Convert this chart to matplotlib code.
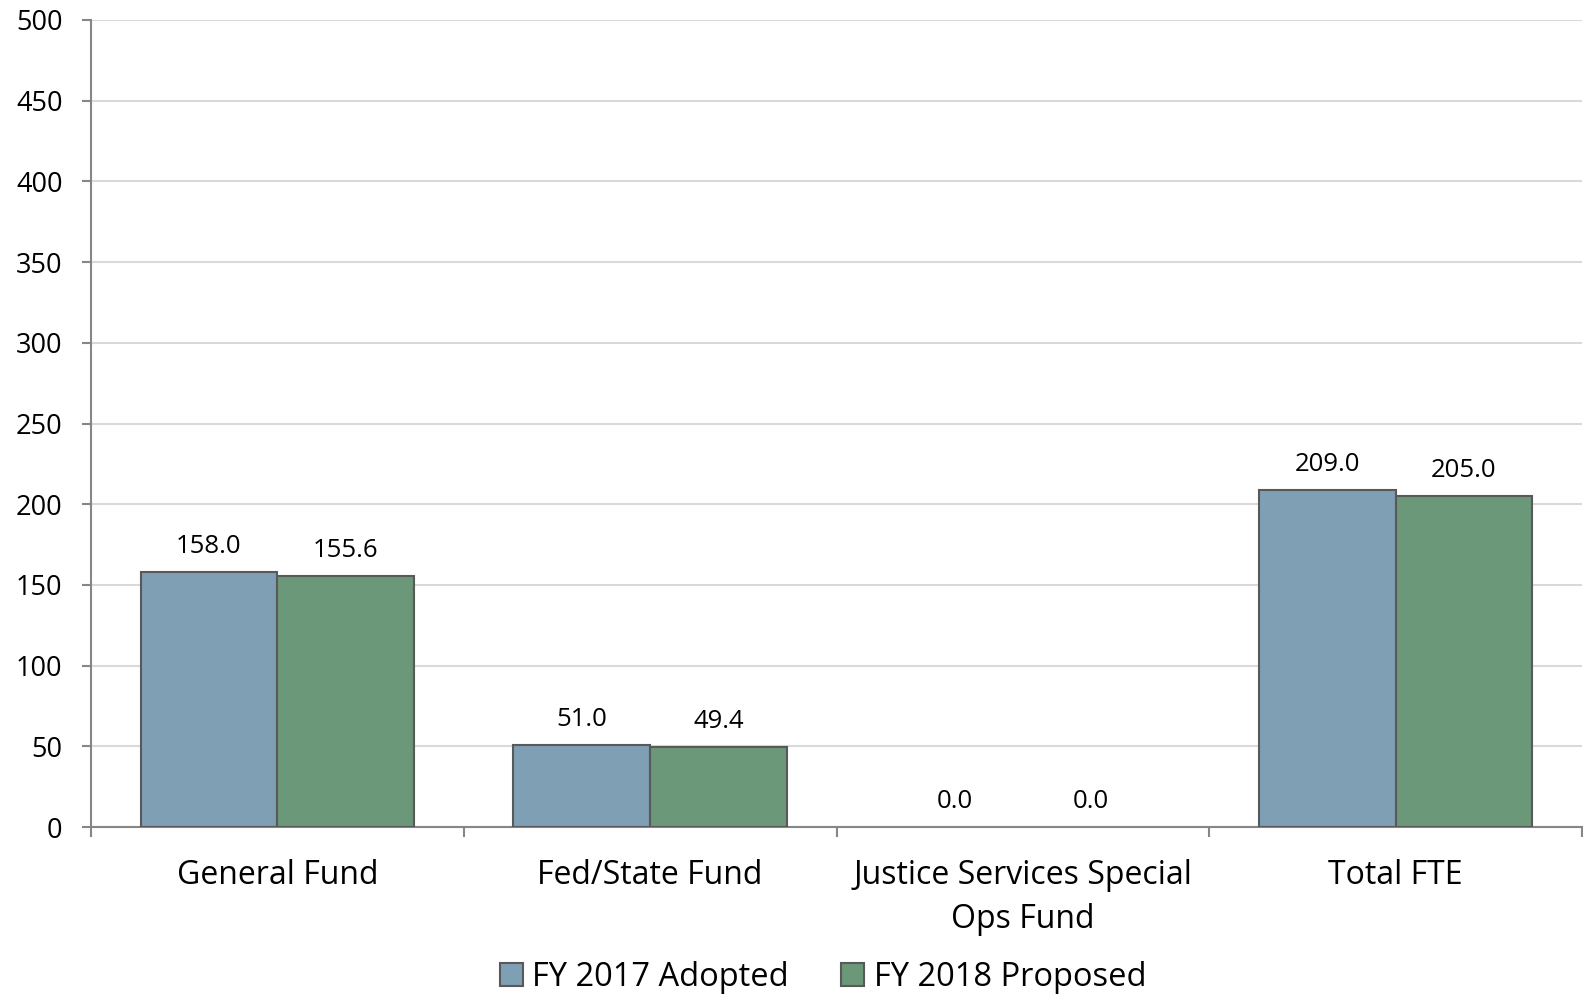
import numpy as np
import matplotlib.pyplot as plt

# Datos del grafico
categorias = ["General Fund", "Fed/State Fund", "Justice Services Special\nOps Fund", "Total FTE"]
fy2017 = [158.0, 51.0, 0.0, 209.0]
fy2018 = [155.6, 49.4, 0.0, 205.0]
series = ["FY 2017 Adopted", "FY 2018 Proposed"]

plt.rcParams['font.family'] = ['Open Sans', 'DejaVu Sans']

fig = plt.figure(figsize=(15.83, 9.94), dpi=100)
ax = fig.add_axes([91/1583, 1-827/994, (1582-91)/1583, (827-20)/994])

x = np.arange(len(categorias))
ancho = 0.367
gris = '#868686'
b1 = ax.bar(x - ancho/2, fy2017, ancho, color='#7F9FB4', edgecolor='#595959', linewidth=1.5, label=series[0], zorder=3)
b2 = ax.bar(x + ancho/2, fy2018, ancho, color='#6A9878', edgecolor='#595959', linewidth=1.5, label=series[1], zorder=3)

# Las barras en cero no se ven en el original
for barras in (b1, b2):
    for b in barras:
        if b.get_height() == 0:
            b.set_linewidth(0)

# Etiquetas de valores
for barras in (b1, b2):
    for b in barras:
        ax.text(b.get_x() + b.get_width()/2, b.get_height() + 8, "{:.1f}".format(b.get_height()),
                ha='center', va='bottom', fontsize=18.5)

ax.set_xlim(-0.5, len(categorias) - 0.5)
ax.set_ylim(0, 500)
ax.set_yticks(range(0, 501, 50))
ax.tick_params(axis='y', labelsize=19.5, length=6.5, color=gris, width=1.5, pad=14)

ax.set_xticks(x)
ax.set_xticklabels(categorias, fontsize=23, linespacing=1.45)
ax.tick_params(axis='x', length=0, pad=23)
ax.set_xticks(np.arange(-0.5, len(categorias)), minor=True)
ax.tick_params(axis='x', which='minor', length=7, color=gris, width=1.5)

ax.grid(axis='y', color='#D9D9D9', linewidth=1.5, zorder=0)
for lado in ['top', 'right']:
    ax.spines[lado].set_visible(False)
for lado in ['left', 'bottom']:
    ax.spines[lado].set_color(gris)
    ax.spines[lado].set_linewidth(1.5)

fig.legend(loc='center', bbox_to_anchor=(0.52, 1-977/994), ncol=2, frameon=False,
           fontsize=23.5, handlelength=0.7, handleheight=0.7, handletextpad=0.3, columnspacing=1.6)

fig.savefig('out.png', dpi=100)
